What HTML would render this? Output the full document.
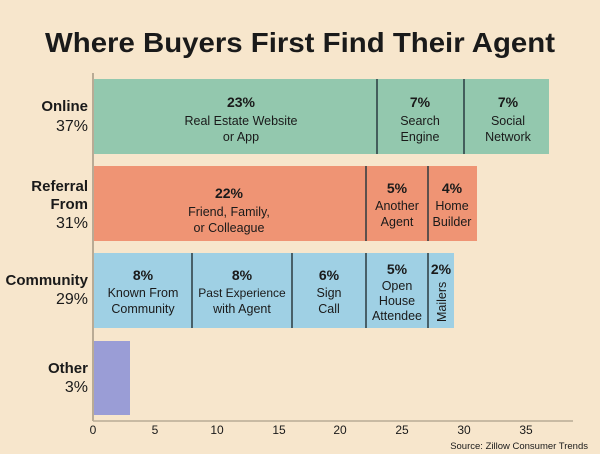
<!DOCTYPE html>
<html><head><style>
html,body{margin:0;padding:0;background:#f7e6cc;}
svg{display:block;}
text{font-family:"Liberation Sans Narrow","Liberation Sans",sans-serif;fill:#1a1a1a;}
.b{font-weight:bold;}
</style></head><body>
<svg width="600" height="454" viewBox="0 0 600 454" xmlns="http://www.w3.org/2000/svg">
<rect width="600" height="454" fill="#f7e6cc"/>
<text x="45" y="52" class="b" font-size="28" textLength="510" lengthAdjust="spacingAndGlyphs" font-family="Liberation Sans,sans-serif">Where Buyers First Find Their Agent</text>
<!-- axes -->
<line x1="93" y1="73" x2="93" y2="421" stroke="#b9ab95" stroke-width="2"/>
<line x1="93" y1="421" x2="573" y2="421" stroke="#b9ab95" stroke-width="1.5"/>
<g font-size="12" text-anchor="middle" fill="#333">
<text x="93" y="434">0</text><text x="155" y="434">5</text><text x="217" y="434">10</text><text x="279" y="434">15</text><text x="340" y="434">20</text><text x="402" y="434">25</text><text x="464" y="434">30</text><text x="526" y="434">35</text>
</g>
<text x="588" y="449" text-anchor="end" font-size="9.5" fill="#444">Source: Zillow Consumer Trends</text>
<!-- bars -->
<rect x="94" y="79" width="455" height="75" fill="#93c8ae"/>
<rect x="94" y="166" width="383" height="75" fill="#ef9474"/>
<rect x="94" y="253" width="360" height="75" fill="#9fd0e4"/>
<rect x="94" y="341" width="36" height="74" fill="#9a9dd6"/>
<g stroke="#2a3a40" stroke-width="1.5">
<line x1="377" y1="79" x2="377" y2="154"/><line x1="464" y1="79" x2="464" y2="154"/>
<line x1="366" y1="166" x2="366" y2="241"/><line x1="428" y1="166" x2="428" y2="241"/>
<line x1="192" y1="253" x2="192" y2="328"/><line x1="292" y1="253" x2="292" y2="328"/><line x1="366" y1="253" x2="366" y2="328"/><line x1="428" y1="253" x2="428" y2="328"/>
</g>
<!-- category labels -->
<g text-anchor="end">
<text x="88" y="111" class="b" font-size="15">Online</text>
<text x="88" y="131" font-size="16">37%</text>
<text x="88" y="191" class="b" font-size="15">Referral</text>
<text x="88" y="209" class="b" font-size="15">From</text>
<text x="88" y="228" font-size="16">31%</text>
<text x="88" y="285" class="b" font-size="15">Community</text>
<text x="88" y="304" font-size="16">29%</text>
<text x="88" y="373" class="b" font-size="15">Other</text>
<text x="88" y="392" font-size="16">3%</text>
</g>
<!-- segment labels -->
<g text-anchor="middle" font-size="12.5">
<text x="241" y="107" class="b" font-size="14">23%</text>
<text x="241" y="125">Real Estate Website</text><text x="241" y="141">or App</text>
<text x="420" y="107" class="b" font-size="14">7%</text>
<text x="420" y="125">Search</text><text x="420" y="141">Engine</text>
<text x="508" y="107" class="b" font-size="14">7%</text>
<text x="508" y="125">Social</text><text x="508" y="141">Network</text>

<text x="229" y="198" class="b" font-size="14">22%</text>
<text x="229" y="216">Friend, Family,</text><text x="229" y="232">or Colleague</text>
<text x="397" y="193" class="b" font-size="14">5%</text>
<text x="397" y="210">Another</text><text x="397" y="226">Agent</text>
<text x="452" y="193" class="b" font-size="14">4%</text>
<text x="452" y="210">Home</text><text x="452" y="226">Builder</text>

<text x="143" y="280" class="b" font-size="14">8%</text>
<text x="143" y="297">Known From</text><text x="143" y="313">Community</text>
<text x="242" y="280" class="b" font-size="14">8%</text>
<text x="242" y="297" font-size="12">Past Experience</text><text x="242" y="313">with Agent</text>
<text x="329" y="280" class="b" font-size="14">6%</text>
<text x="329" y="297">Sign</text><text x="329" y="313">Call</text>
<text x="397" y="274" class="b" font-size="14">5%</text>
<text x="397" y="290">Open</text><text x="397" y="305">House</text><text x="397" y="320">Attendee</text>
<text x="441" y="274" class="b" font-size="14">2%</text>
<text transform="translate(446,322) rotate(-90)" text-anchor="start" font-size="12.5">Mailers</text>
</g>
</svg>
</body></html>
